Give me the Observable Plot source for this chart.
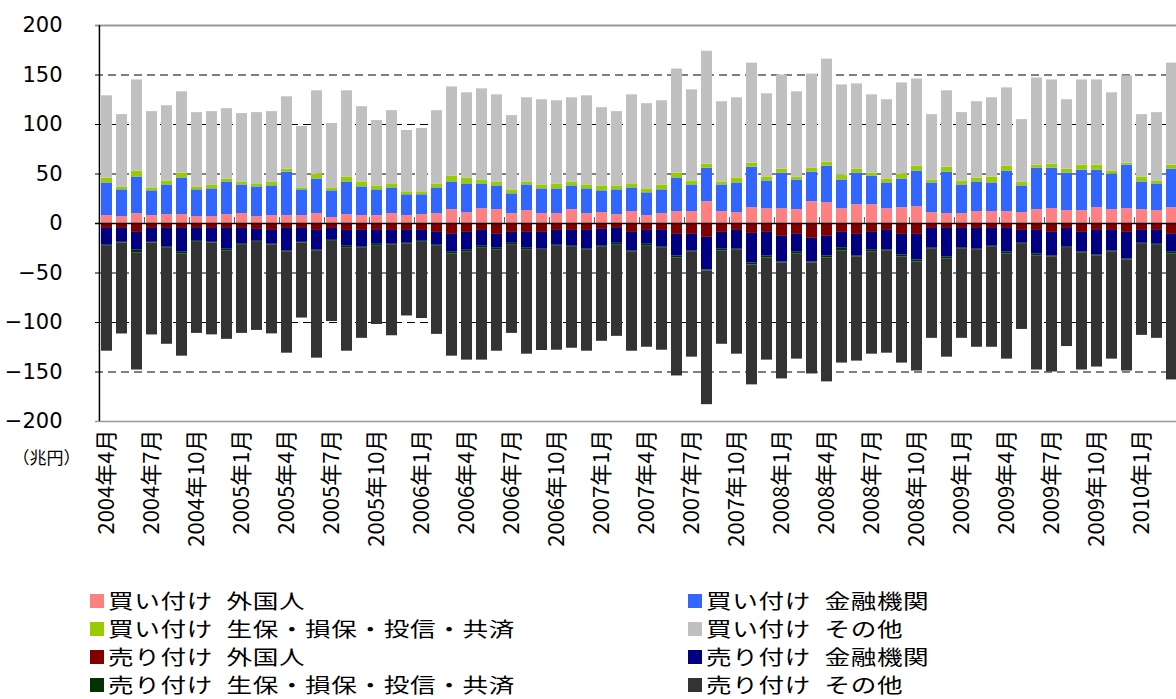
<!DOCTYPE html>
<html><head><meta charset="utf-8">
<script src="https://cdn.jsdelivr.net/npm/d3@7"></script>
<script src="https://cdn.jsdelivr.net/npm/@observablehq/plot@0.6"></script>
<style>
html,body{margin:0;padding:0;background:#fff;overflow:hidden;width:1176px;height:699px}
#chart svg{display:block}
#legend{position:relative;width:1176px;height:114px;font-family:"Noto Sans CJK JP";font-size:20px;color:#000}
.item{position:absolute;height:28px;line-height:28px;white-space:nowrap}
.sw{position:absolute;left:0;top:7px;width:14px;height:14px}
.tx{position:absolute;left:18px;top:0;display:inline-block;transform:scaleX(1.28);transform-origin:0 50%;letter-spacing:0.5px}
</style></head><body>
<div id="chart"></div><div id="legend"></div>
<script>
const months = [
"2004年4月","2004年5月","2004年6月","2004年7月","2004年8月","2004年9月","2004年10月","2004年11月","2004年12月",
"2005年1月","2005年2月","2005年3月","2005年4月","2005年5月","2005年6月","2005年7月","2005年8月","2005年9月","2005年10月","2005年11月","2005年12月",
"2006年1月","2006年2月","2006年3月","2006年4月","2006年5月","2006年6月","2006年7月","2006年8月","2006年9月","2006年10月","2006年11月","2006年12月",
"2007年1月","2007年2月","2007年3月","2007年4月","2007年5月","2007年6月","2007年7月","2007年8月","2007年9月","2007年10月","2007年11月","2007年12月",
"2008年1月","2008年2月","2008年3月","2008年4月","2008年5月","2008年6月","2008年7月","2008年8月","2008年9月","2008年10月","2008年11月","2008年12月",
"2009年1月","2009年2月","2009年3月","2009年4月","2009年5月","2009年6月","2009年7月","2009年8月","2009年9月","2009年10月","2009年11月","2009年12月",
"2010年1月","2010年2月","2010年3月"];

const tickLabels = [
"2004年4月","2004年7月","2004年10月","2005年1月","2005年4月","2005年7月","2005年10月",
"2006年1月","2006年4月","2006年7月","2006年10月","2007年1月","2007年4月","2007年7月","2007年10月",
"2008年1月","2008年4月","2008年7月","2008年10月","2009年1月","2009年4月","2009年7月","2009年10月","2010年1月"];

const yTicks = [-200,-150,-100,-50,0,50,100,150,200];

// 買い付け (positive)
const buyForeign = [8,7,10,8,9,9,7,7,9,10,7,8,8,8,10, 6,9,8,8,10,8,9,10,14,11,15,14,10,13,10,
 10,14,10,11,9,12,8,10,12,12,22,12,11,16,15, 15,14,22,21,15,19,19,15,16,17,11,10,10,12,12,
 12,11,14,15,13,13,16,14,15,14,13,16];
const buyFinancial = [33,27,37,25,30,37,27,28,33,29,30,30,44,26,35, 27,33,29,26,26,21,20,26,28,29,25,24,20,26,25,
 25,24,25,22,25,24,23,24,34,27,34,27,30,41,28, 36,30,30,37,29,32,29,26,29,36,30,42,29,30,29,
 41,27,42,41,38,41,38,36,44,28,27,39];
const buyLife = [5,3,6,3,4,5,3,4,3,3,3,4,3,2,5, 3,5,5,4,4,3,3,4,6,6,4,4,4,3,4,
 5,4,4,5,4,4,4,5,5,4,4,3,5,4,4, 4,3,4,4,5,4,3,4,5,5,3,5,4,4,6,
 5,4,3,4,4,5,5,3,2,5,3,4];
const buyOther = [83,73,92,77,76,82,75,74,71,69,72,71,73,62,84, 65,87,76,66,74,62,64,74,90,86,92,88,75,85,86,
 84,85,90,79,75,90,86,85,105,92,114,81,81,101,84, 95,86,95,104,91,86,79,80,92,88,66,77,69,77,80,
 79,63,88,85,70,86,86,79,88,63,69,103];

// 売り付け (negative)
const sellForeign = [-5,-5,-9,-5,-5,-5,-5,-5,-5,-5,-6,-7,-5,-5,-7, -5,-7,-7,-7,-7,-7,-7,-9,-11,-9,-7,-11,-9,-9,-9,
 -7,-7,-7,-6,-5,-9,-7,-7,-11,-11,-14,-9,-7,-10,-9, -13,-11,-15,-13,-9,-11,-9,-7,-11,-11,-5,-5,-5,-5,-5,
 -5,-7,-7,-9,-5,-9,-7,-7,-9,-7,-7,-11];
const sellFinancial = [-17,-14,-18,-14,-19,-24,-13,-14,-21,-16,-12,-14,-23,-14,-20, -12,-16,-17,-14,-14,-13,-11,-13,-18,-18,-16,-14,-11,-16,-17,
 -15,-16,-19,-17,-15,-19,-14,-17,-22,-17,-33,-17,-19,-30,-24, -26,-18,-24,-20,-16,-22,-18,-20,-21,-26,-20,-29,-20,-21,-18,
 -24,-13,-24,-24,-19,-20,-25,-21,-27,-13,-14,-18];
const sellLife = [-1,-0.6,-3,-0.6,-1,-2,-1,-0.5,-2,-1,-1,-0.5,-1,-0.5,-1, -1,-2,-1,-2,-0.4,-0.4,-1,-1,-2,-2,-2,-2,-2,-2,-0.3,
 -1,-1,-1,-1,-2,-1,-2,-1,-2,-1,-1,-2,-1,-2,-2, -1,-2,-1,-2,-3,-1,-2,-1,-2,-2,-1,-2,-1,-1,-1,
 -2,-1,-2,-1,-0.3,-1,-1,-1,-1,-1,-1,-2];
const sellOther = [-106,-92,-118,-93,-97,-103,-92,-93,-89,-89,-89,-90,-102,-76,-108, -81,-104,-91,-79,-92,-73,-77,-89,-103,-109,-113,-102,-89,-105,-102,
 -105,-102,-102,-95,-92,-100,-102,-103,-119,-106,-135,-94,-105,-121,-103, -117,-106,-112,-125,-113,-105,-103,-103,-107,-110,-90,-99,-90,-98,-101,
 -106,-86,-115,-116,-100,-118,-112,-108,-112,-92,-94,-127];

const seriesNames = ["買い付け 外国人","買い付け 金融機関","買い付け 生保・損保・投信・共済","買い付け その他",
 "売り付け 外国人","売り付け 金融機関","売り付け 生保・損保・投信・共済","売り付け その他"];
const seriesColors = ["#FF8080","#3366FF","#99CC00","#C0C0C0","#800000","#000080","#003300","#333333"];
const seriesValues = [buyForeign,buyFinancial,buyLife,buyOther,sellForeign,sellFinancial,sellLife,sellOther];

const data = [];
seriesValues.forEach((vals, s) => vals.forEach((v, i) => data.push({month: months[i], series: seriesNames[s], value: v})));

const W = 1190, H = 585, ML = 95, MR = 6.4, MT = 25, MB = 164;
const step = (W - ML - MR) / months.length;
const jp = "Noto Sans CJK JP";

const chart = Plot.plot({
  width: W, height: H,
  marginLeft: ML, marginRight: MR, marginTop: MT, marginBottom: MB,
  style: {maxWidth: "none", background: "#fff"},
  x: {type: "band", domain: months, paddingInner: 0.27, paddingOuter: 0.135, align: 0.5},
  y: {domain: [-200, 200]},
  color: {domain: seriesNames, range: seriesColors},
  marks: [
    Plot.ruleY([-150,-100,-50,50,100,150], {stroke: "#000", strokeDasharray: "8,5", strokeWidth: 1}),
    Plot.ruleY([200], {stroke: "#999", strokeWidth: 2}),
    Plot.ruleY([-200], {stroke: "#999", strokeWidth: 1.5}),
    Plot.barY(data, {x: "month", y: "value", fill: "series"}),
    Plot.ruleY([0], {stroke: "#000", strokeWidth: 1.5}),
    Plot.ruleX(tickLabels, {x: d => d, y1: 0, y2: 6, dx: -step / 2, stroke: "#555"}),
    Plot.ruleX([months[0]], {x: d => d, y1: -200, y2: 200, dx: -step / 2, stroke: "#000", strokeWidth: 1.5}),
    Plot.axisY({ticks: yTicks, tickSize: 0, tickPadding: 33, fontSize: 21, fontFamily: "DejaVu Sans", label: null}),
    Plot.axisX({ticks: tickLabels, tickRotate: -90, tickSize: 0, tickPadding: 8, fontSize: 22, fontFamily: jp, label: null}),
    Plot.text(["（兆円）"], {frameAnchor: "bottom-left", dx: -49, dy: 42, text: d => d, fontSize: 17, fontFamily: jp, textAnchor: "middle", fill: "#000"})
  ]
});
document.getElementById("chart").appendChild(chart);

const legend = document.getElementById("legend");
seriesNames.forEach((name, i) => {
  const col = i % 2, row = Math.floor(i / 2);
  const item = document.createElement("div");
  item.className = "item";
  item.style.left = (col === 0 ? 90 : 688) + "px";
  item.style.top = (2 + row * 28) + "px";
  const sw = document.createElement("span");
  sw.className = "sw";
  sw.style.background = seriesColors[i];
  const tx = document.createElement("span");
  tx.className = "tx";
  tx.textContent = name.replace(" ", "\u2002");
  item.appendChild(sw); item.appendChild(tx);
  legend.appendChild(item);
});
</script>
</body></html>
